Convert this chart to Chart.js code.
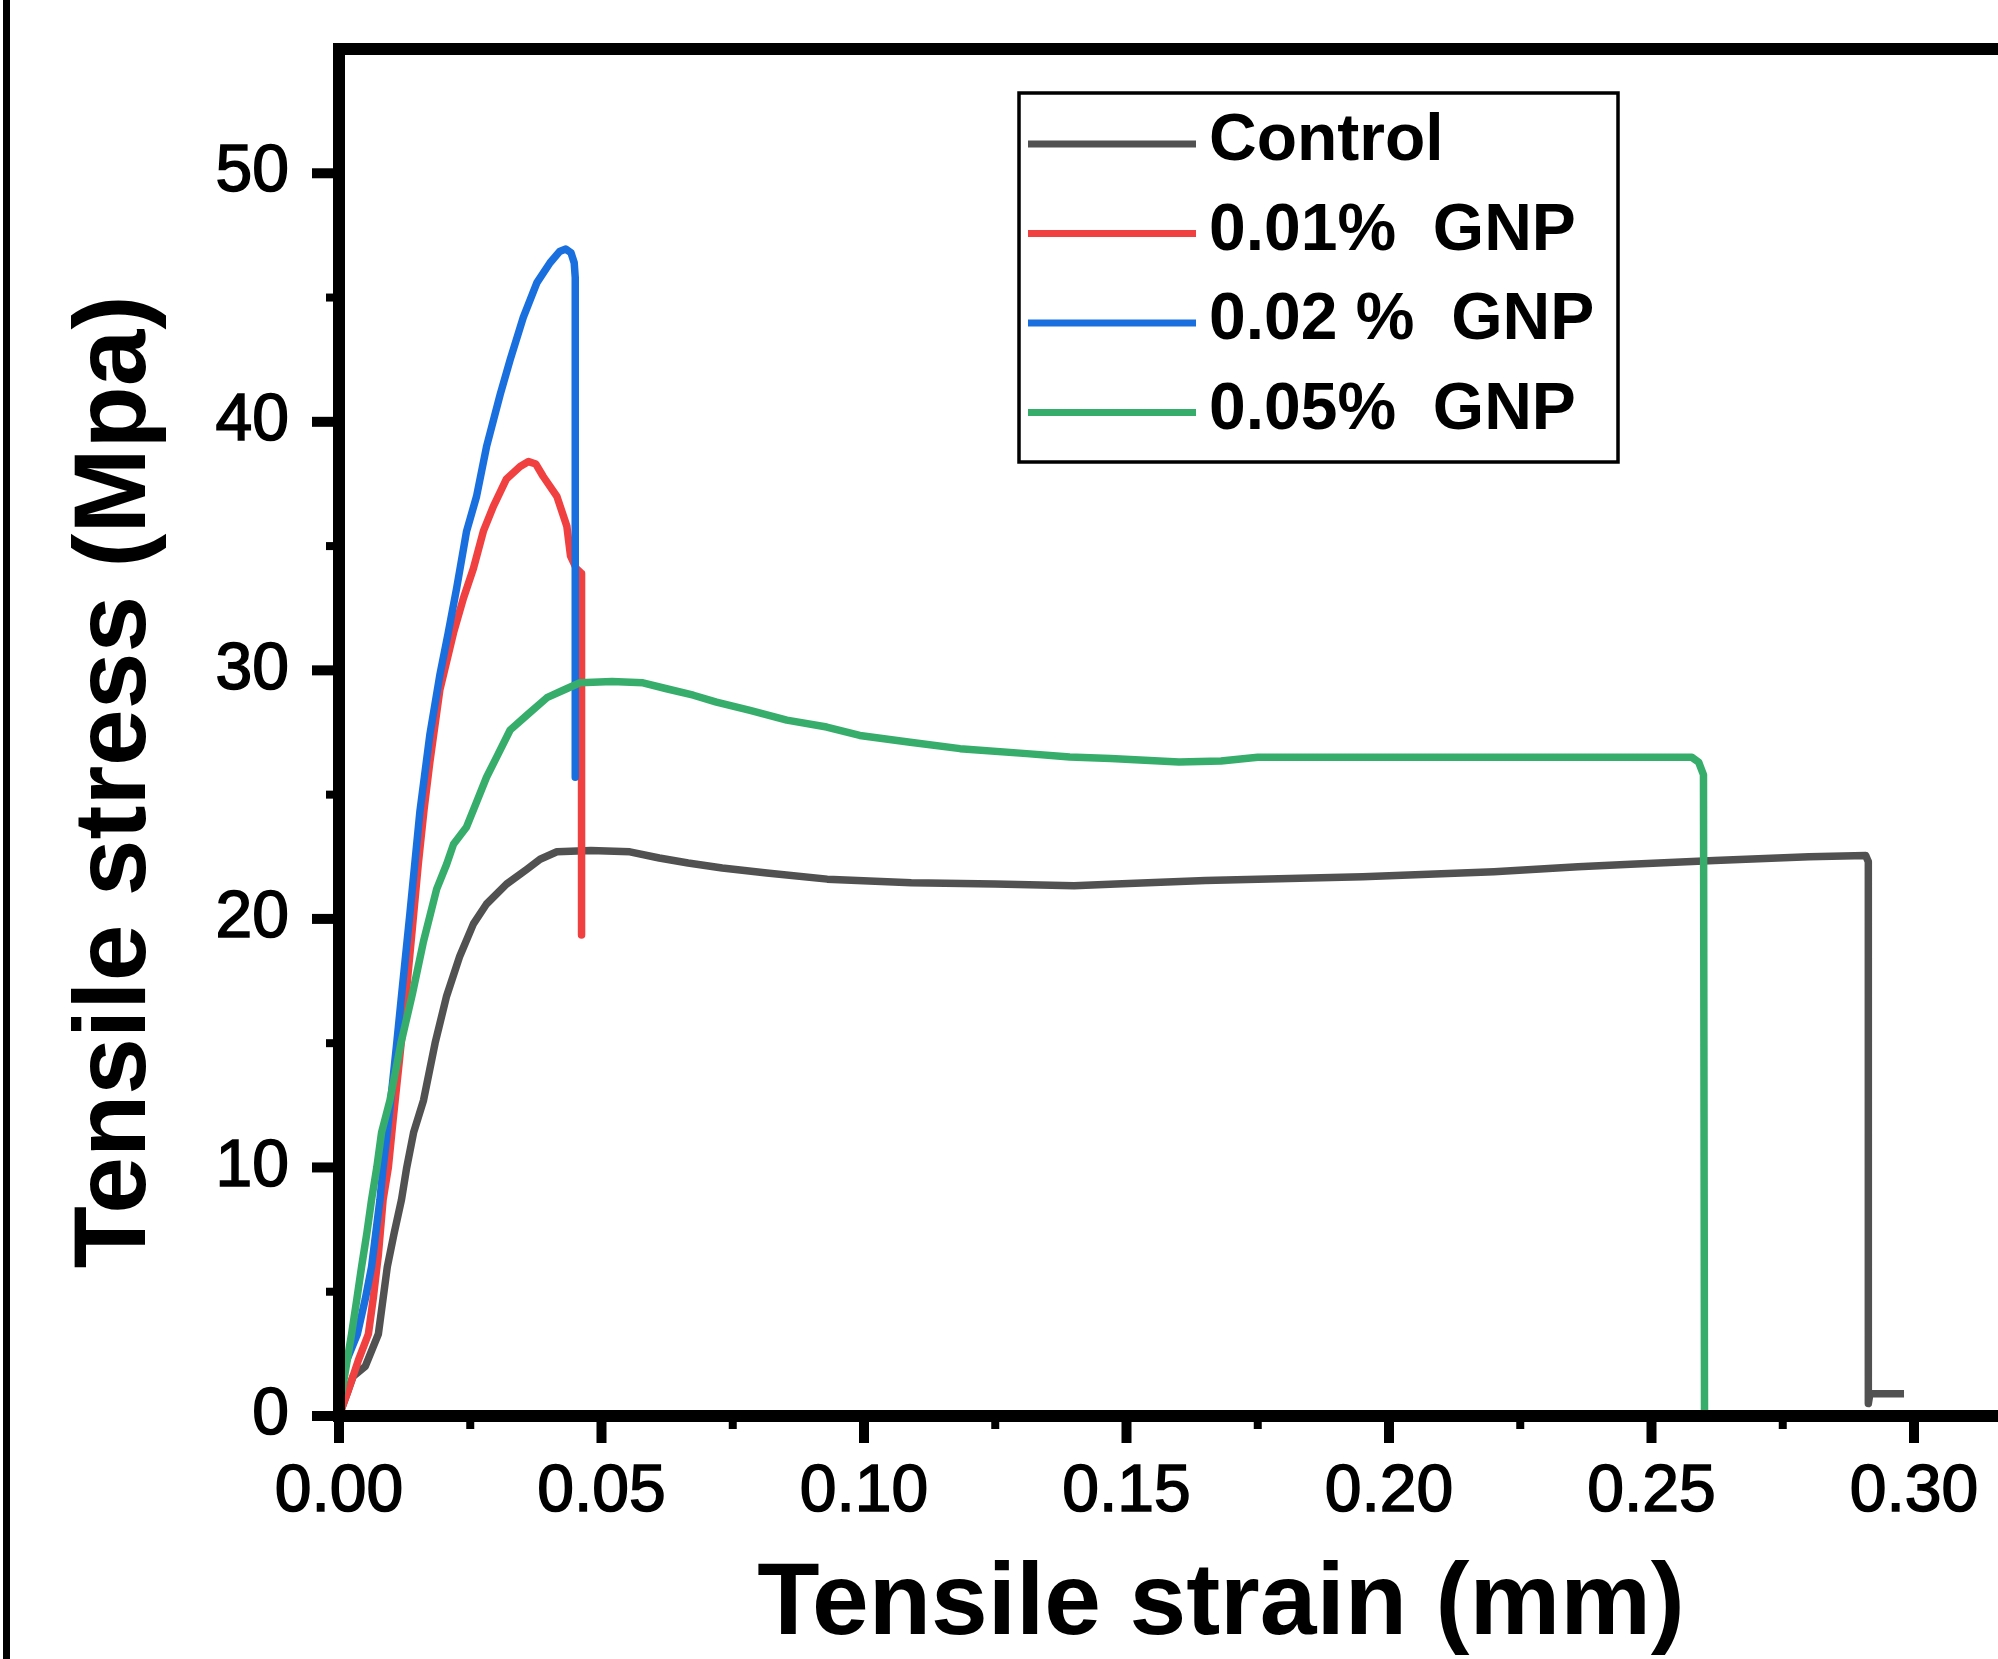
<!DOCTYPE html>
<html><head><meta charset="utf-8">
<script src="https://cdn.jsdelivr.net/npm/chart.js@4.4.1/dist/chart.umd.min.js"></script>
<style>
html,body{margin:0;padding:0;background:#fff;overflow:hidden}
canvas{display:block}
</style></head><body>
<canvas id="c" width="1998" height="1659"></canvas>
<script>
// ---------- data ----------
const seriesNames = ['Control', '0.01%  GNP', '0.02 %  GNP', '0.05%  GNP'];

const controlStrain = [0, 0.0027, 0.0050, 0.0075, 0.0092, 0.0105, 0.0119, 0.0129, 0.0142, 0.0161, 0.0183, 0.0205, 0.0230, 0.0256, 0.0281, 0.0319, 0.0358, 0.0383, 0.0415, 0.0480, 0.0554, 0.0610, 0.0665, 0.0730, 0.0815, 0.0930, 0.1090, 0.1250, 0.1400, 0.1480, 0.1650, 0.1950, 0.2200, 0.2360, 0.2460, 0.2620, 0.2800, 0.2908, 0.2913, 0.2913, 0.2916, 0.2981];
const controlStress = [0, 1.6, 2.0, 3.3, 6.0, 7.35, 8.7, 10.0, 11.4, 12.7, 15.0, 16.9, 18.5, 19.8, 20.6, 21.4, 22.0, 22.4, 22.7, 22.75, 22.7, 22.45, 22.25, 22.05, 21.85, 21.6, 21.45, 21.4, 21.33, 21.4, 21.55, 21.7, 21.9, 22.1, 22.2, 22.35, 22.5, 22.55, 22.3, 0.5, 0.9, 0.9];

const gnp001Strain = [0, 0.0018, 0.0037, 0.0056, 0.0065, 0.0075, 0.0084, 0.0094, 0.0103, 0.0116, 0.0128, 0.0140, 0.0151, 0.0162, 0.0173, 0.0192, 0.0218, 0.0237, 0.0256, 0.0275, 0.0294, 0.0319, 0.0345, 0.0361, 0.0375, 0.0389, 0.0415, 0.0434, 0.0441, 0.0452, 0.0462, 0.0462];
const gnp001Stress = [0, 1.05, 2.25, 3.3, 4.7, 6.5, 8.7, 10.0, 11.9, 14.5, 17.0, 19.7, 22.2, 24.4, 26.3, 29.2, 31.5, 32.9, 34.1, 35.6, 36.6, 37.7, 38.2, 38.4, 38.3, 37.8, 37.0, 35.8, 34.6, 34.1, 33.9, 19.35];

const gnp002Strain = [0, 0.0010, 0.0035, 0.0050, 0.0062, 0.0070, 0.0078, 0.0084, 0.0092, 0.0100, 0.0110, 0.0120, 0.0135, 0.0154, 0.0173, 0.0192, 0.0208, 0.0224, 0.0243, 0.0262, 0.0281, 0.0307, 0.0326, 0.0351, 0.0377, 0.0402, 0.0420, 0.0432, 0.0442, 0.0448, 0.0450, 0.0450];
const gnp002Stress = [0, 2.0, 3.3, 4.7, 6.0, 7.35, 8.7, 10.0, 11.4, 13.0, 15.0, 17.1, 20.2, 24.3, 27.4, 29.8, 31.5, 33.3, 35.6, 37.0, 39.0, 41.1, 42.5, 44.2, 45.6, 46.4, 46.85, 46.95, 46.8, 46.4, 45.8, 25.7];

const gnp005Strain = [0, 0.0005, 0.0024, 0.0034, 0.0043, 0.0053, 0.0062, 0.0072, 0.0081, 0.0097, 0.0118, 0.0140, 0.0161, 0.0186, 0.0205, 0.0218, 0.0243, 0.0262, 0.0281, 0.0300, 0.0326, 0.0358, 0.0396, 0.0427, 0.0459, 0.0520, 0.0579, 0.0624, 0.0675, 0.0719, 0.0783, 0.0853, 0.0929, 0.0992, 0.1088, 0.1183, 0.1310, 0.1392, 0.1470, 0.1600, 0.1680, 0.1750, 0.2000, 0.2300, 0.2577, 0.2590, 0.2599, 0.2601];
const gnp005Stress = [0, 0.9, 3.3, 4.7, 6.0, 7.35, 8.7, 10.0, 11.4, 12.7, 15.0, 17.0, 19.1, 21.2, 22.2, 23.0, 23.7, 24.7, 25.7, 26.5, 27.6, 28.2, 28.9, 29.2, 29.5, 29.55, 29.5, 29.26, 29.0, 28.72, 28.39, 28.0, 27.72, 27.38, 27.11, 26.85, 26.65, 26.51, 26.45, 26.31, 26.35, 26.5, 26.5, 26.5, 26.5, 26.3, 25.8, 0];

const xTickValues = [0, 0.05, 0.10, 0.15, 0.20, 0.25, 0.30];
const xTickLabels = ['0.00', '0.05', '0.10', '0.15', '0.20', '0.25', '0.30'];
const xMinorTicks = [0.025, 0.075, 0.125, 0.175, 0.225, 0.275];
const yTickValues = [0, 10, 20, 30, 40, 50];
const yTickLabels = ['0', '10', '20', '30', '40', '50'];
const yMinorTicks = [5, 15, 25, 35, 45];
const xTitle = 'Tensile strain (mm)';
const yTitle = 'Tensile stress (Mpa)';

// ---------- build ----------
const pairs = (xs, ys) => xs.map((x, i) => ({x: x, y: ys[i]}));
const seriesData = [
  pairs(controlStrain, controlStress),
  pairs(gnp001Strain, gnp001Stress),
  pairs(gnp002Strain, gnp002Stress),
  pairs(gnp005Strain, gnp005Stress)
];
const palette = ['#515151', '#F14040', '#1A6FDF', '#37AD6B'];

const FONT = '"Liberation Sans", Arial, sans-serif';
const labelFor = (vals, labs) => (v) => {
  const i = vals.findIndex(t => Math.abs(t - v) < 1e-9);
  return i >= 0 ? labs[i] : '';
};
const noPad = s => { s.paddingTop = 0; s.paddingBottom = 0; s.paddingLeft = 0; s.paddingRight = 0; };

const decor = {
  id: 'decor',
  afterDraw(chart) {
    const ctx = chart.ctx;
    const ca = chart.chartArea;
    const xs = chart.scales.x, ys = chart.scales.y;
    ctx.save();
    ctx.fillStyle = '#000';
    // left image border
    ctx.fillRect(3, 0, 7, chart.height);
    // top frame line
    ctx.fillRect(ca.left - 6, ca.top - 6, chart.width - ca.left + 6, 12);
    // ticks
    xTickValues.forEach(v => { const p = xs.getPixelForValue(v); ctx.fillRect(p - 5, ca.bottom, 10, 27); });
    xMinorTicks.forEach(v => { const p = xs.getPixelForValue(v); ctx.fillRect(p - 4, ca.bottom, 8, 13); });
    yTickValues.forEach(v => { const p = ys.getPixelForValue(v); ctx.fillRect(ca.left - 27, p - 5, 27, 10); });
    yMinorTicks.forEach(v => { const p = ys.getPixelForValue(v); ctx.fillRect(ca.left - 13, p - 4, 13, 8); });
    // axis titles
    ctx.font = 'bold 102px ' + FONT;
    ctx.textAlign = 'center';
    ctx.textBaseline = 'middle';
    ctx.fillText(xTitle, ca.left + 882, ca.bottom + 190);
    ctx.save();
    ctx.translate(117, ca.top + 733);
    ctx.rotate(-Math.PI / 2);
    ctx.fillText(yTitle, 0, 0);
    ctx.restore();
    // legend
    const bx = 1019, by = 93, bw = 599, bh = 369;
    ctx.lineWidth = 3.5;
    ctx.strokeStyle = '#000';
    ctx.strokeRect(bx, by, bw, bh);
    ctx.font = 'bold 66px ' + FONT;
    ctx.textAlign = 'left';
    chart.data.datasets.forEach((ds, i) => {
      const ry = 142 + i * 89.5;
      ctx.strokeStyle = ds.borderColor;
      ctx.lineWidth = 7;
      ctx.beginPath();
      ctx.moveTo(bx + 9, ry + 2);
      ctx.lineTo(bx + 177, ry + 2);
      ctx.stroke();
      ctx.fillStyle = '#000';
      ctx.fillText(ds.label, bx + 190, ry);
    });
    ctx.restore();
  }
};

new Chart(document.getElementById('c'), {
  type: 'line',
  data: {
    datasets: seriesData.map((d, i) => ({
      label: seriesNames[i],
      data: d,
      borderColor: palette[i],
      backgroundColor: palette[i],
      borderWidth: 7.5,
      pointRadius: 0,
      tension: 0,
      fill: false,
      borderJoinStyle: 'round',
      order: 3 - i
    }))
  },
  options: {
    responsive: false,
    animation: false,
    devicePixelRatio: 1,
    layout: {padding: {top: 49, left: 0, right: 0, bottom: 0}, autoPadding: false},
    plugins: {legend: {display: false}, tooltip: {enabled: false}, title: {display: false}},
    scales: {
      x: {
        type: 'linear', position: 'bottom', min: 0, max: 0.316,
        afterBuildTicks: s => { s.ticks = xTickValues.map(v => ({value: v})); },
        afterFit: s => { s.height = 243; noPad(s); },
        ticks: {
          callback: labelFor(xTickValues, xTickLabels),
          font: {family: FONT, size: 66, lineHeight: 1.2}, color: '#000',
          textStrokeColor: '#000', textStrokeWidth: 1.6,
          padding: 37, maxRotation: 0, minRotation: 0, autoSkip: false, includeBounds: false
        },
        grid: {display: false, drawTicks: false},
        border: {display: true, color: '#000', width: 12, z: 1}
      },
      y: {
        type: 'linear', position: 'left', min: 0, max: 55,
        afterBuildTicks: s => { s.ticks = yTickValues.map(v => ({value: v})); },
        afterFit: s => { s.width = 339; noPad(s); },
        ticks: {
          callback: labelFor(yTickValues, yTickLabels),
          font: {family: FONT, size: 66, lineHeight: 1.2}, color: '#000',
          textStrokeColor: '#000', textStrokeWidth: 1.6,
          padding: 50, autoSkip: false, includeBounds: false
        },
        grid: {display: false, drawTicks: false},
        border: {display: true, color: '#000', width: 12, z: 1}
      }
    }
  },
  plugins: [decor]
});
</script>
</body></html>
